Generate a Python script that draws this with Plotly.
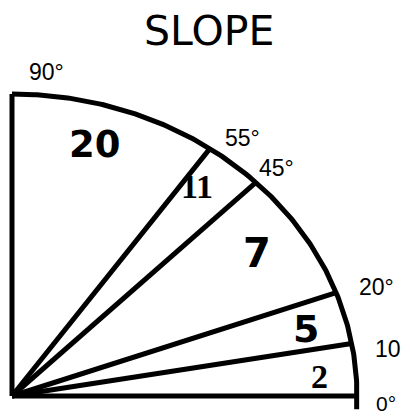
import numpy as np
import plotly.graph_objects as go

# Data
angles = [0, 10, 20, 45, 55, 90]          # boundary angles (degrees)
sector_values = [2, 5, 7, 11, 20]          # value in each sector
angle_labels = ["0°", "10", "20°", "45°", "55°", "90°"]
title_text = "SLOPE"

PAD = 8               # page body margin
W, H = 410 - PAD, 417 - PAD
OX, OY = 12, 396      # origin in page pixels
RX, RY = 345, 302     # pixel radii

def px2x(px):
    return (px - OX) / RX

def px2y(py):
    return (OY - py) / RY

fig = go.Figure()

# radial lines
for a in angles:
    r = np.radians(a)
    fig.add_trace(go.Scatter(x=[0, np.cos(r)], y=[0, np.sin(r)], mode="lines",
                             line=dict(color="black", width=5), hoverinfo="skip"))

# arc
t = np.radians(np.linspace(angles[0] - 2.5, angles[-1], 200))
fig.add_trace(go.Scatter(x=np.cos(t), y=np.sin(t), mode="lines",
                         line=dict(color="black", width=5), hoverinfo="skip"))

# angle label positions (page pixels) and sizes
angle_label_pos = [(386, 403), (388, 349), (376, 287), (276, 168), (242, 138), (46, 72)]
angle_label_size = [21, 23, 23, 23, 23, 23]
annotations = []
for lab, (px, py), sz in zip(angle_labels, angle_label_pos, angle_label_size):
    annotations.append(dict(x=px2x(px), y=px2y(py), text=lab, showarrow=False,
                            xanchor="center", yanchor="middle",
                            font=dict(family="Liberation Sans", size=sz, color="black")))
annotations.append(dict(x=px2x(406), y=px2y(370), text="°", showarrow=False,
                        xanchor="center", yanchor="middle",
                        font=dict(family="Liberation Sans", size=11, color="black")))

# sector value labels
sector_pos = [(319, 376), (306, 329), (257, 253), (197, 186), (95, 144)]
sector_font = [("Liberation Serif", 34), ("DejaVu Sans", 38), ("DejaVu Sans", 40),
               ("Liberation Serif", 34), ("DejaVu Sans", 37)]
for v, (px, py), (fam, sz) in zip(sector_values, sector_pos, sector_font):
    annotations.append(dict(x=px2x(px), y=px2y(py), text="<b>%d</b>" % v, showarrow=False,
                            xanchor="center", yanchor="middle",
                            font=dict(family=fam, size=sz, color="black")))

# title
annotations.append(dict(x=px2x(209), y=px2y(31), text=title_text, showarrow=False,
                        xanchor="center", yanchor="middle",
                        font=dict(family="DejaVu Sans", size=41, color="black")))

fig.update_layout(
    width=W, height=H, margin=dict(l=0, r=0, t=0, b=0),
    paper_bgcolor="white", plot_bgcolor="white", showlegend=False,
    xaxis=dict(range=[px2x(PAD), px2x(PAD + W)], visible=False, fixedrange=True),
    yaxis=dict(range=[px2y(PAD + H), px2y(PAD)], visible=False, fixedrange=True),
    annotations=annotations,
)

fig.write_html("out.html")
